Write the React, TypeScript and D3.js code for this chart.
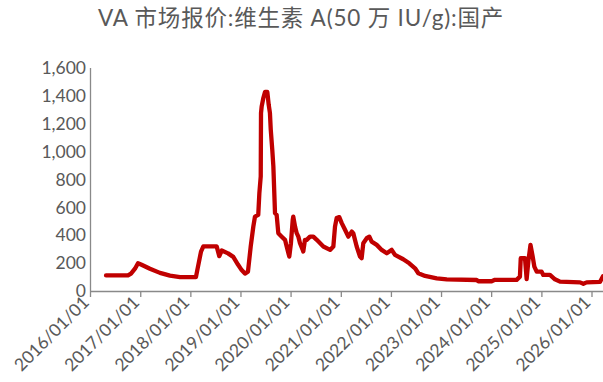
import React from "react";
import * as d3 from "d3";

const dates: string[] = [
  "2016-04-23","2016-09-30","2016-10-22","2016-11-20","2016-12-12","2017-01-03","2017-03-09","2017-05-21",
  "2017-08-02","2017-10-14","2017-12-26","2018-02-07","2018-02-17","2018-03-16","2018-04-02","2018-07-08",
  "2018-07-27","2018-08-14","2018-09-29","2018-11-06","2018-12-10","2019-01-06","2019-01-30","2019-02-21",
  "2019-03-13","2019-04-01","2019-04-13","2019-05-07","2019-05-15","2019-05-25","2019-05-27","2019-06-01",
  "2019-06-13","2019-06-25","2019-07-12","2019-07-22","2019-07-31","2019-08-06","2019-08-17","2019-08-25",
  "2019-09-06","2019-09-18","2019-09-30","2019-10-25","2019-11-18","2019-11-30","2019-12-19","2019-12-31",
  "2020-01-13","2020-01-17","2020-01-30","2020-02-11","2020-02-23","2020-03-06","2020-03-26","2020-03-30",
  "2020-04-11","2020-04-24","2020-05-18","2020-06-11","2020-07-06","2020-08-23","2020-10-11","2020-11-04",
  "2020-11-16","2020-11-28","2020-12-17","2021-01-04","2021-01-28","2021-02-21","2021-03-18","2021-03-29",
  "2021-04-23","2021-05-17","2021-05-29","2021-06-10","2021-07-05","2021-07-24","2021-08-10","2021-09-16",
  "2021-10-22","2021-11-28","2022-01-03","2022-01-27","2022-03-28","2022-05-11","2022-06-22","2022-07-16",
  "2022-09-03","2022-11-27","2023-02-08","2023-09-14","2023-09-26","2024-01-01","2024-01-25","2024-07-01",
  "2024-07-25","2024-07-31","2024-08-31","2024-09-12","2024-09-24","2024-10-10","2024-10-26","2024-11-07",
  "2024-11-24","2024-12-30","2025-01-11","2025-03-01","2025-04-06","2025-05-13","2025-10-06","2025-10-30",
  "2025-11-23","2026-02-28","2026-03-22"
];

const prices: number[] = [
  112,112,125,160,199,190,160,130,
  110,100,100,100,150,283,320,320,
  250,290,270,245,190,150,125,139,
  319,462,534,546,702,822,1277,1325,
  1385,1428,1428,1337,1277,1158,1014,894,
  559,546,415,390,367,319,247,343,
  510,534,462,415,390,343,295,283,
  367,367,390,390,367,319,295,319,
  462,523,530,487,439,390,426,415,
  319,247,235,343,379,390,354,331,
  295,271,295,259,228,199,163,127,
  108,91,84,79,70,70,80,80,
  103,235,235,85,211,331,247,175,
  139,139,115,115,84,67,62,52,
  62,65,105
];

const yTicks: number[] = [0, 200, 400, 600, 800, 1000, 1200, 1400, 1600];
const xTickYears: number[] = [2016, 2017, 2018, 2019, 2020, 2021, 2022, 2023, 2024, 2025, 2026];
const title = "VA 市场报价:维生素 A(50 万 IU/g):国产";

const W = 603;
const H = 382;

export default function App() {
  const parse = d3.timeParse("%Y-%m-%d");
  const data = dates.map((d, i) => ({ date: parse(d) as Date, value: prices[i] }));

  const x = d3
    .scaleTime()
    .domain([new Date(2016, 0, 1), new Date(2026, 0, 1)])
    .range([90.5, 592]);
  const y = d3.scaleLinear().domain([0, 1600]).range([291, 68]);

  const line = d3
    .line<{ date: Date; value: number }>()
    .x((d) => x(d.date))
    .y((d) => y(d.value));

  const fmt = d3.format(",");
  const tfmt = d3.timeFormat("%Y/%m/%d");
  const font = "Lato, 'Noto Sans CJK SC', sans-serif";
  const grey = "#595959";

  return (
    <svg
      width={W}
      height={H}
      style={{ position: "absolute", left: 0, top: 0, background: "#fff" }}
    >
      <text
        x={301}
        y={26}
        textAnchor="middle"
        fontFamily={font}
        fontSize={22.5}
        letterSpacing={0.8}
        fill={grey}
      >
        {title}
      </text>

      {/* y axis */}
      <line x1={90.5} x2={90.5} y1={y(1600)} y2={y(0)} stroke="#898989" strokeWidth={1.3} />
      {yTicks.map((t) => (
        <text
          key={t}
          x={86}
          y={y(t)}
          dy="0.35em"
          textAnchor="end"
          fontFamily={font}
          fontSize={17.5}
          fill={grey}
        >
          {fmt(t)}
        </text>
      ))}

      {/* x axis */}
      <line x1={90} x2={W} y1={y(0) + 0.5} y2={y(0) + 0.5} stroke="#898989" strokeWidth={1.3} />
      {xTickYears.map((yr) => {
        const d = new Date(yr, 0, 1);
        const px = x(d);
        return (
          <g key={yr}>
            <line x1={px} x2={px} y1={y(0)} y2={y(0) + 6} stroke="#898989" strokeWidth={1.3} />
            <text
              transform={`translate(${px - 9},${y(0) + 4}) rotate(-45)`}
              textAnchor="end"
              dy="0.7em"
              fontFamily={font}
              fontSize={17.5}
              fill={grey}
            >
              {tfmt(d)}
            </text>
          </g>
        );
      })}

      <path
        d={line(data) || ""}
        fill="none"
        stroke="#C00000"
        strokeWidth={4.3}
        strokeLinejoin="round"
        strokeLinecap="round"
      />
    </svg>
  );
}
